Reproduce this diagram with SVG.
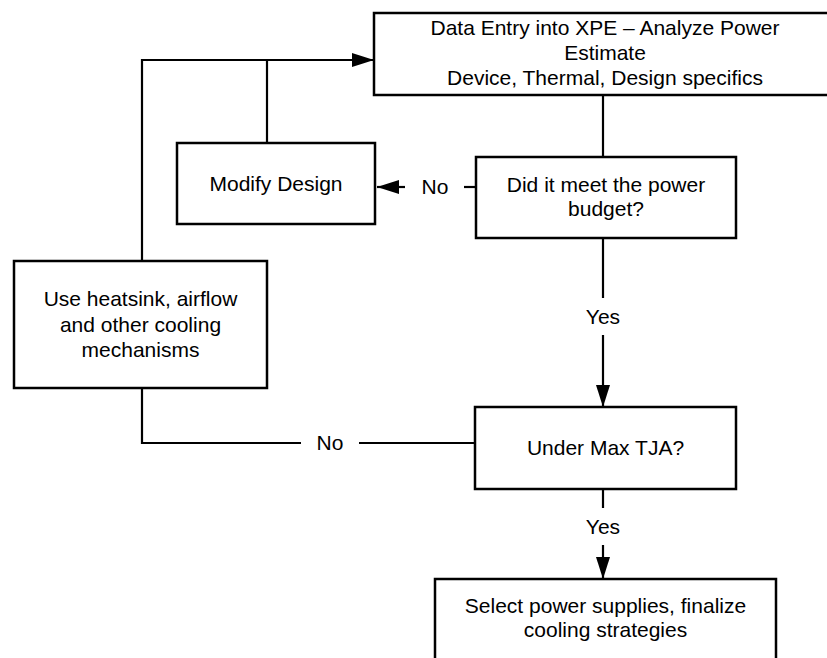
<svg xmlns="http://www.w3.org/2000/svg" width="827" height="658" viewBox="0 0 827 658">
<defs>
<style>
.box{fill:#fff;stroke:#000;stroke-width:2.5}
.ln{fill:none;stroke:#000;stroke-width:2.2}
.t{font-family:"Liberation Sans",Arial,sans-serif;font-size:21px;fill:#000;text-anchor:middle}
</style>
<marker id="ah" viewBox="0 0 22 14" refX="22" refY="7" markerWidth="22" markerHeight="14" markerUnits="userSpaceOnUse" orient="auto">
<path d="M0,0 L22,7 L0,14 Z" fill="#000"/>
</marker>
</defs>
<rect width="827" height="658" fill="#fff"/>
<g id="connectors">
<path class="ln" d="M142,261 V60 H374" marker-end="url(#ah)"/>
<path class="ln" d="M267,143 V60"/>
<path class="ln" d="M603,95 V157"/>
<path class="ln" d="M476,187 H464"/>
<path class="ln" d="M405,187 H377" marker-end="url(#ah)"/>
<path class="ln" d="M603,238 V298"/>
<path class="ln" d="M603,335 V407" marker-end="url(#ah)"/>
<path class="ln" d="M475,443 H359"/>
<path class="ln" d="M301,443 H142 V388"/>
<path class="ln" d="M603,489 V508"/>
<path class="ln" d="M603,545 V579" marker-end="url(#ah)"/>
<text class="t" x="435" y="194">No</text>
<text class="t" x="603" y="324">Yes</text>
<text class="t" x="330" y="450">No</text>
<text class="t" x="603" y="534">Yes</text>
</g>
<g id="node-data-entry">
<rect class="box" x="374" y="13" width="462" height="82"/>
<text class="t" x="605" y="35">Data Entry into XPE – Analyze Power</text>
<text class="t" x="605" y="60">Estimate</text>
<text class="t" x="605" y="85">Device, Thermal, Design specifics</text>
</g>
<g id="node-modify-design">
<rect class="box" x="177" y="143" width="198" height="81"/>
<text class="t" x="276" y="191">Modify Design</text>
</g>
<g id="node-power-budget">
<rect class="box" x="476" y="157" width="260" height="81"/>
<text class="t" x="606" y="192">Did it meet the power</text>
<text class="t" x="606" y="216">budget?</text>
</g>
<g id="node-heatsink">
<rect class="box" x="14" y="261" width="253" height="127"/>
<text class="t" x="140.5" y="306">Use heatsink, airflow</text>
<text class="t" x="140.5" y="332">and other cooling</text>
<text class="t" x="140.5" y="357">mechanisms</text>
</g>
<g id="node-max-tja">
<rect class="box" x="475" y="407" width="261" height="82"/>
<text class="t" x="605.5" y="455">Under Max TJA?</text>
</g>
<g id="node-select-power">
<rect class="box" x="435" y="579" width="341" height="100"/>
<text class="t" x="605.5" y="613">Select power supplies, finalize</text>
<text class="t" x="605.5" y="637">cooling strategies</text>
</g>
</svg>
